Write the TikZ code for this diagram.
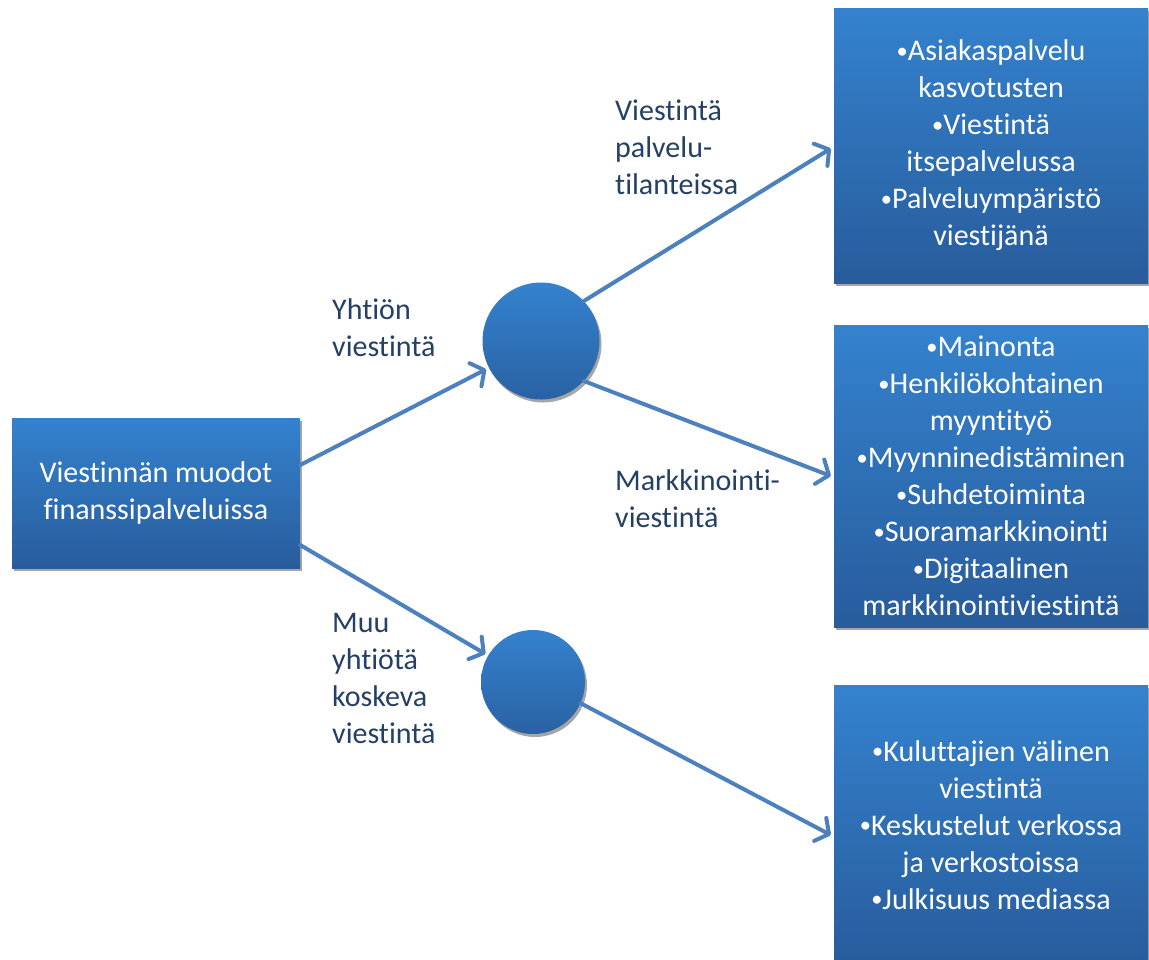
\documentclass[tikz,border=0pt]{standalone}
\usepackage{fontspec}
\setmainfont{Carlito}[Ligatures={NoCommon,NoRare,NoContextual}]
\usetikzlibrary{arrows.meta,shadows}
\definecolor{boxtop}{RGB}{52,130,206}
\definecolor{boxbot}{RGB}{40,92,156}
\definecolor{arrowblue}{RGB}{76,129,190}
\definecolor{labelblue}{RGB}{36,64,100}
\newcommand{\mybul}{\raisebox{0.08em}{\scalebox{0.75}{•}}}
\tikzset{
  bluebox/.style={rectangle, top color=boxtop, bottom color=boxbot, draw=none,
    text=white, align=center, inner sep=0pt, font=\fontsize{30}{37}\selectfont,
    drop shadow={shadow xshift=2pt, shadow yshift=-3pt, opacity=0.35, fill=black}},
  bluecirc/.style={circle, top color=boxtop, bottom color=boxbot!85!boxtop, draw=none, inner sep=0pt,
    drop shadow={shadow xshift=2pt, shadow yshift=-3pt, opacity=0.35, fill=black}},
  lbl/.style={text=labelblue, align=left, anchor=west, inner sep=0pt, font=\fontsize{30}{37}\selectfont},
  arr/.style={draw=arrowblue, line width=4pt, line cap=round,
    -{Straight Barb[length=10pt,width=26pt,line width=4pt,round]}}
}
\begin{document}
\begin{tikzpicture}[x=1pt,y=-1pt]
\useasboundingbox (0,0) rectangle (1149,959);
\fill[white] (0,0) rectangle (1149,959);
% boxes
\node[bluebox, minimum width=288pt, minimum height=150pt] (lb) at (156,493) {Viestinnän muodot\\finanssipalveluissa};
\node[bluebox, minimum width=314pt, minimum height=275pt] (b1) at (991,145.5) {\mybul Asiakaspalvelu\\kasvotusten\\\mybul Viestintä\\itsepalvelussa\\\mybul Palveluympäristö\\viestijänä};
\node[bluebox, minimum width=314pt, minimum height=302pt] (b2) at (991,476) {\mybul Mainonta\\\mybul Henkilökohtainen\\myyntityö\\\mybul Myynninedistäminen\\\mybul Suhdetoiminta\\\mybul Suoramarkkinointi\\\mybul Digitaalinen\\markkinointiviestintä};
\node[bluebox, minimum width=314pt, minimum height=280pt] (b3) at (991,825) {\mybul Kuluttajien välinen\\viestintä\\\mybul Keskustelut verkossa\\ja verkostoissa\\\mybul Julkisuus mediassa};
% circles
\node[bluecirc, minimum size=117pt] (c1) at (541,341) {};
\node[bluecirc, minimum size=104pt] (c2) at (533,682) {};
% labels
\node[lbl] (l1) at (615,147) {Viestintä\\palvelu-\\tilanteissa};
\node[lbl] (l2) at (332,328) {Yhtiön\\viestintä};
\node[lbl] (l3) at (615,499) {Markkinointi-\\viestintä};
\node[lbl] (l4) at (332,678) {Muu\\yhtiötä\\koskeva\\viestintä};
% arrows
\draw[arr, shorten >=3pt] ([yshift=28pt]lb.east) -- (c1);
\draw[arr, shorten >=3pt] ([yshift=-52pt]lb.east) -- (c2);
\draw[arr] (c1.43) -- ([xshift=-3pt,yshift=-3pt]b1.west);
\draw[arr] (c1.-43) -- ([xshift=-3pt]b2.west);
\draw[arr] (c2.-24) -- ([xshift=-3pt,yshift=-10pt]b3.west);
\end{tikzpicture}
\end{document}
